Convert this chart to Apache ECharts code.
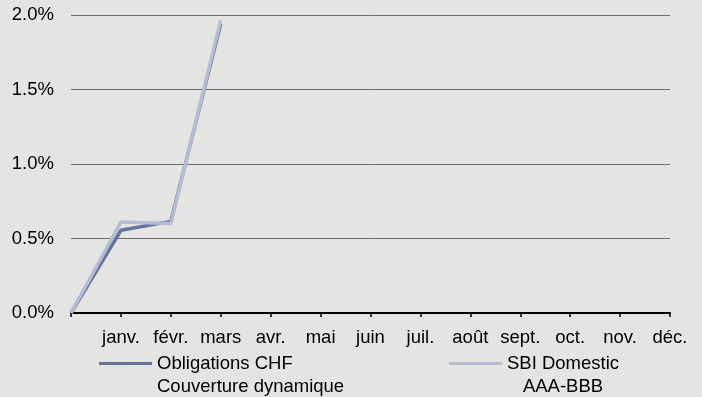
<!DOCTYPE html>
<html>
<head>
<meta charset="utf-8">
<script src="https://cdn.jsdelivr.net/npm/echarts@6/dist/echarts.min.js"></script>
<style>
  html, body { margin: 0; padding: 0; background: #e4e4e2; }
  #chart { width: 702px; height: 397px; }
</style>
</head>
<body>
<div id="chart"></div>
<script>
// Month axis: the leading empty slot is the year start (0 %)
const months = ['', 'janv.', 'févr.', 'mars', 'avr.', 'mai', 'juin', 'juil.', 'août', 'sept.', 'oct.', 'nov.', 'déc.'];

// Cumulative performance, in percent
const obligationsCHF = [0, 0.555, 0.615, 1.94];
const sbiDomestic = [0, 0.61, 0.60, 1.965];

const seriesNames = ['Obligations CHF\nCouverture dynamique', 'SBI Domestic\nAAA-BBB'];

// Y ticks
const yMin = 0, yMax = 2.0, yStep = 0.5;

const FONT = 'Liberation Sans, Arial, Helvetica, sans-serif';
const FS = 18.5;
const DARK = '#63739d';
const LIGHT = '#b4bdd3';

// Legend swatch: a short bar level with the first text line of a two-line label
const swatch = 'path://M0,0h0.01v0.01h-0.01z M0,10h53v3h-53z M0,46h0.01v0.01h-0.01z';

function legendLabel(align) {
  return {
    icon: swatch,
    itemWidth: 53,
    itemHeight: 46,
    itemStyle: { borderWidth: 0 },
    textStyle: {
      fontFamily: FONT,
      fontSize: FS,
      color: '#000',
      rich: {
        t: { fontFamily: FONT, fontSize: FS, lineHeight: 23, color: '#000', align: align }
      }
    },
    formatter: function (name) {
      return name.split('\n').map(function (s) { return '{t|' + s + '}'; }).join('\n');
    }
  };
}

const chart = echarts.init(document.getElementById('chart'), null, { renderer: 'canvas' });

chart.setOption({
  backgroundColor: '#e4e4e2',
  animation: false,
  grid: { left: 71, right: 32, top: 15, bottom: 84, containLabel: false },
  legend: [
    Object.assign({ data: [seriesNames[0]], left: 99, top: 352, orient: 'horizontal', padding: 0 }, legendLabel('left')),
    Object.assign({ data: [seriesNames[1]], left: 449, top: 352, orient: 'horizontal', padding: 0 }, legendLabel('center'))
  ],
  xAxis: {
    type: 'category',
    data: months,
    boundaryGap: false,
    axisLine: { show: true, lineStyle: { color: '#000', width: 2 } },
    axisTick: { show: true, inside: false, length: 4, interval: 0, lineStyle: { color: '#000', width: 1.5 } },
    axisLabel: { interval: 0, margin: 15, color: '#000', fontFamily: FONT, fontSize: FS },
    splitLine: { show: false }
  },
  yAxis: {
    type: 'value',
    min: yMin,
    max: yMax,
    interval: yStep,
    axisLine: { show: false },
    axisTick: { show: false },
    axisLabel: {
      margin: 17,
      color: '#000',
      fontFamily: FONT,
      fontSize: FS,
      formatter: function (v) { return v.toFixed(1) + '%'; }
    },
    splitLine: { show: true, lineStyle: { color: '#6e6e6e', width: 1 } }
  },
  series: [
    {
      name: seriesNames[0],
      type: 'line',
      data: obligationsCHF,
      showSymbol: false,
      symbol: 'none',
      color: DARK,
      lineStyle: { color: DARK, width: 3.5 }
    },
    {
      name: seriesNames[1],
      type: 'line',
      data: sbiDomestic,
      showSymbol: false,
      symbol: 'none',
      color: LIGHT,
      lineStyle: { color: LIGHT, width: 3.5 }
    }
  ]
});
</script>
</body>
</html>
